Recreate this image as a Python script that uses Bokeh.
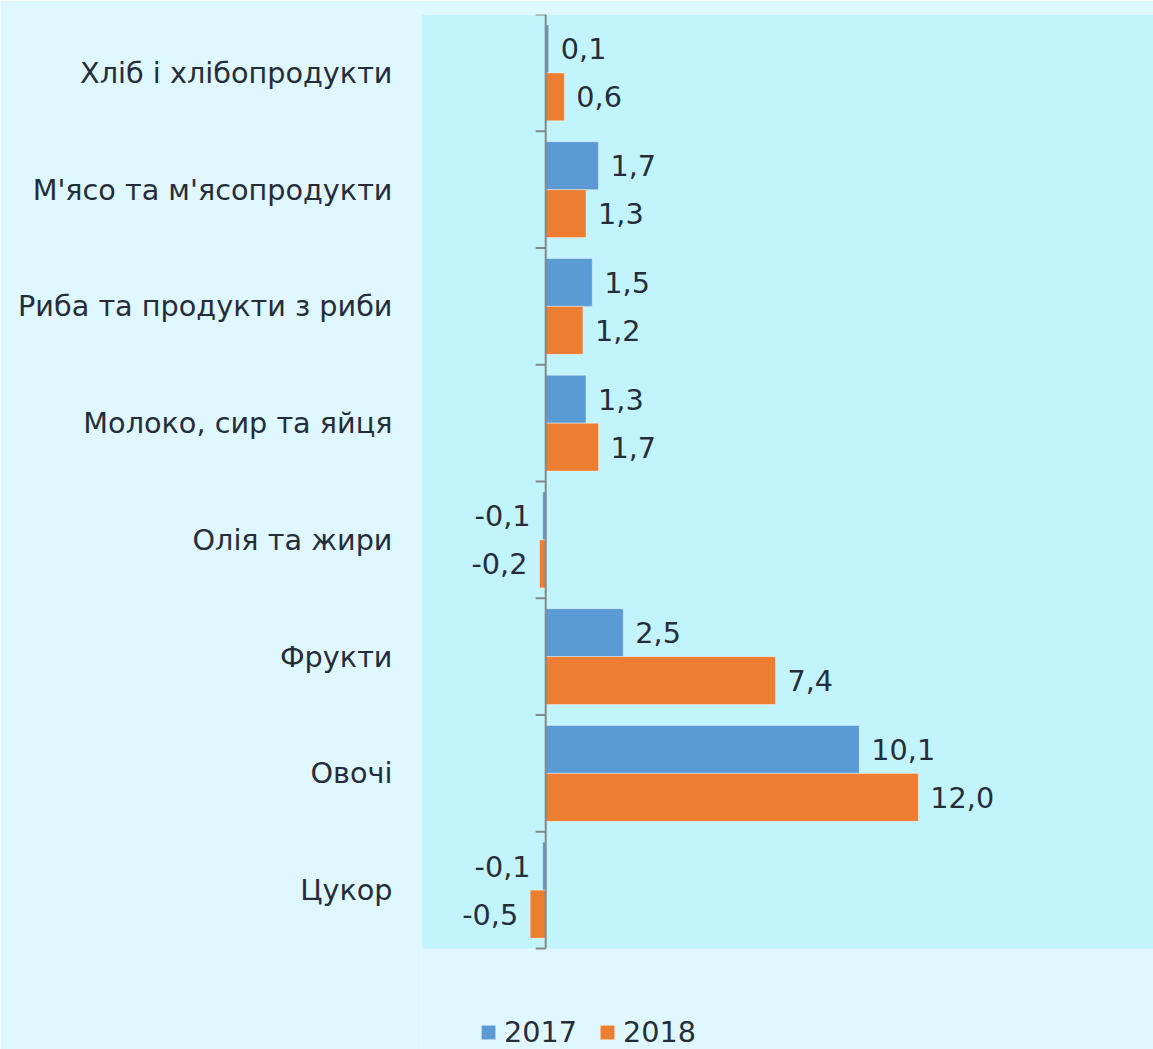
import math
from bokeh.plotting import figure
from bokeh.models import Range1d, ColumnDataSource, Legend, LegendItem, BoxAnnotation, FixedTicker
from bokeh.core.properties import value
from bokeh.embed import file_html
from bokeh.resources import INLINE

categories = ["Хліб і хлібопродукти", "М'ясо та м'ясопродукти", "Риба та продукти з риби",
              "Молоко, сир та яйця", "Олія та жири", "Фрукти", "Овочі", "Цукор"]
values_2017 = [0.1, 1.7, 1.5, 1.3, -0.1, 2.5, 10.1, -0.1]
values_2018 = [0.6, 1.3, 1.2, 1.7, -0.2, 7.4, 12.0, -0.5]
series_names = ["2017", "2018"]

FONT = "DejaVu Sans"
TXT = "#262D3A"
BLUE = "#5B9BD5"
ORANGE = "#ED7D31"
INNER = "#C2F4FE"
OUTER = "#DFF7FE"
AXIS = "#878787"

n = len(categories)
centers = [n - 0.5 - i for i in range(n)]

p = figure(width=1153, height=1049, output_backend="svg", toolbar_location=None,
           y_range=Range1d(-0.865, n), x_range=Range1d(-4, 19.575),
           min_border_left=421, min_border_right=0, min_border_top=14, min_border_bottom=0)
p.background_fill_color = OUTER
p.border_fill_color = OUTER
p.outline_line_color = None
p.grid.visible = False
p.xaxis.visible = False

p.add_layout(BoxAnnotation(bottom=0, fill_color=INNER, fill_alpha=1, line_color=None, level="underlay"))

ya = p.yaxis[0]
ya.ticker = FixedTicker(ticks=centers)
ya.major_label_overrides = {c: cat for c, cat in zip(centers, categories)}
ya.axis_line_color = None
ya.major_tick_line_color = None
ya.minor_tick_line_color = None
ya.major_tick_out = 0
ya.major_tick_in = 0
ya.major_label_standoff = 29
ya.major_label_text_font = FONT
ya.major_label_text_font_size = "28.7px"
ya.major_label_text_color = TXT

def fmt(v):
    return f"{v:.1f}".replace(".", ",")

bh = 0.411
off = bh / 2
src = ColumnDataSource(dict(
    y17=[c + off for c in centers], y18=[c - off for c in centers],
    v17=values_2017, v18=values_2018,
    t17=[fmt(v) for v in values_2017], t18=[fmt(v) for v in values_2018],
    a17=["left" if v >= 0 else "right" for v in values_2017],
    a18=["left" if v >= 0 else "right" for v in values_2018],
    o17=[12 if v >= 0 else -12 for v in values_2017],
    o18=[12 if v >= 0 else -12 for v in values_2018],
))

r17 = p.hbar(y="y17", left=0, right="v17", height=bh, source=src,
             fill_color=BLUE, line_color="white", line_alpha=0.4, line_width=1)
r18 = p.hbar(y="y18", left=0, right="v18", height=bh, source=src,
             fill_color=ORANGE, line_color="white", line_alpha=0.4, line_width=1)

p.text(x="v17", y="y17", text="t17", source=src,
       text_align="a17", x_offset="o17", text_baseline="middle",
       text_font=value(FONT), text_font_size="28.7px", text_color=TXT)
p.text(x="v18", y="y18", text="t18", source=src,
       text_align="a18", x_offset="o18", text_baseline="middle",
       text_font=value(FONT), text_font_size="28.7px", text_color=TXT)

# value axis line at zero with category-boundary ticks
p.segment(x0=[0], y0=[0], x1=[0], y1=[n], line_color=AXIS, line_width=2)
bounds = list(range(n + 1))
p.ray(x=[0] * len(bounds), y=bounds, length=10, length_units="screen", angle=math.pi,
      line_color=AXIS, line_width=2)

legend = Legend(items=[LegendItem(label=series_names[0], renderers=[r17]),
                       LegendItem(label=series_names[1], renderers=[r18])],
                orientation="horizontal", location=(58, 0),
                glyph_width=18, glyph_height=18, label_standoff=7, spacing=21,
                padding=0, margin=0,
                label_text_font=FONT, label_text_font_size="28.7px", label_text_color=TXT,
                background_fill_alpha=0, border_line_color=None)
p.add_layout(legend)

open("out.html", "w").write(file_html(p, INLINE))
